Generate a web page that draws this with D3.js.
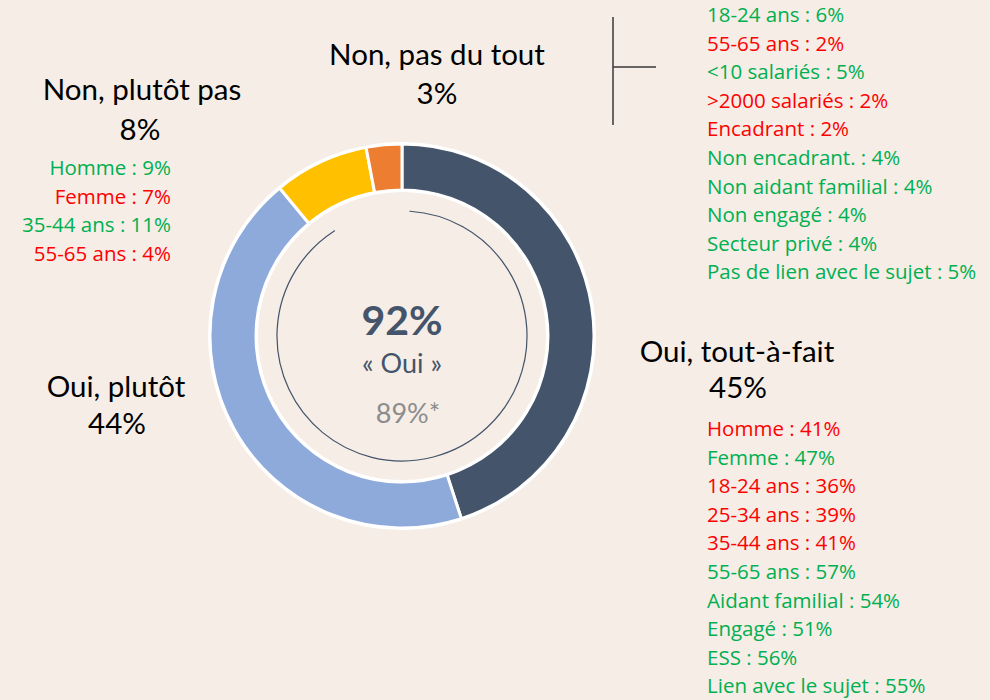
<!DOCTYPE html>
<html>
<head>
<meta charset="utf-8">
<script src="https://cdn.jsdelivr.net/npm/d3@7"></script>
<style>
  html, body { margin: 0; padding: 0; background: #f5ede6; }
  svg { display: block; font-family: Lato, "Open Sans", sans-serif; }
</style>
</head>
<body>
<svg id="donut" width="990" height="700"></svg>
<script>
// answer categories and shares (%)
const categories = ["Oui, tout-à-fait", "Oui, plutôt", "Non, plutôt pas", "Non, pas du tout"];
const values = [45, 44, 8, 3];
const ouiTotal = 92;
const ouiPrevious = "89%*";

// sub-group highlights: [label, value, "up"|"down"]
const toutAFaitGroups = [
  ["Homme", 41, "down"], ["Femme", 47, "up"], ["18-24 ans", 36, "down"],
  ["25-34 ans", 39, "down"], ["35-44 ans", 41, "down"], ["55-65 ans", 57, "up"],
  ["Aidant familial", 54, "up"], ["Engagé", 51, "up"], ["ESS", 56, "up"],
  ["Lien avec le sujet", 55, "up"]
];
const plutotPasGroups = [
  ["Homme", 9, "up"], ["Femme", 7, "down"], ["35-44 ans", 11, "up"], ["55-65 ans", 4, "down"]
];
const pasDuToutGroups = [
  ["18-24 ans", 6, "up"], ["55-65 ans", 2, "down"], ["<10 salariés", 5, "up"],
  [">2000 salariés", 2, "down"], ["Encadrant", 2, "down"], ["Non encadrant.", 4, "up"],
  ["Non aidant familial", 4, "up"], ["Non engagé", 4, "up"], ["Secteur privé", 4, "up"],
  ["Pas de lien avec le sujet", 5, "up"]
];

const svg = d3.select("#donut");
const cx = 402, cy = 336;
const rOuter = 192, rInner = 146;

const color = d3.scaleOrdinal()
  .domain(categories)
  .range(["#44546a", "#8eaadb", "#ffc000", "#ed7d31"]);
const trend = d3.scaleOrdinal().domain(["up", "down"]).range(["#00b050", "#ff0000"]);

const pie = d3.pie().sort(null).value(d => d.value);
const slices = pie(categories.map((c, i) => ({ name: c, value: values[i] })));
const arc = d3.arc().innerRadius(rInner).outerRadius(rOuter);

const g = svg.append("g").attr("transform", `translate(${cx},${cy})`);

g.selectAll("path.slice")
  .data(slices)
  .join("path")
  .attr("class", "slice")
  .attr("d", arc)
  .attr("fill", d => color(d.data.name))
  .attr("stroke", "#ffffff")
  .attr("stroke-width", 3);

// white ring edges
g.append("circle").attr("r", rOuter + 1).attr("fill", "none").attr("stroke", "#fff").attr("stroke-width", 2);
g.append("circle").attr("r", rInner - 1).attr("fill", "none").attr("stroke", "#fff").attr("stroke-width", 2);

// thin inner arc for the "Oui" total
const innerArc = d3.arc().innerRadius(125).outerRadius(125.01);
g.append("path")
  .attr("d", innerArc({ startAngle: 0.065, endAngle: 2 * Math.PI * ouiTotal / 100 - 0.07 }))
  .attr("fill", "none")
  .attr("stroke", "#44546a")
  .attr("stroke-width", 1.2);

// centre
g.append("text").attr("y", -1).attr("text-anchor", "middle")
  .style("font-size", "41px").style("font-weight", "bold").style("fill", "#44546a")
  .text(ouiTotal + "%");
g.append("text").attr("y", 37).attr("text-anchor", "middle")
  .style("font-size", "27px").style("fill", "#44546a")
  .text("« Oui »");
g.append("text").attr("x", 6).attr("y", 87).attr("text-anchor", "middle")
  .style("font-size", "27px").style("fill", "#8c8c8c")
  .text(ouiPrevious);

// category labels
const labelPos = [
  { x: 737, y: 362, px: 738, py: 398 },
  { x: 116, y: 397, px: 117, py: 434 },
  { x: 142, y: 100, px: 140, py: 140 },
  { x: 437, y: 65, px: 437, py: 104 }
];
categories.forEach((c, i) => {
  const p = labelPos[i];
  svg.append("text").attr("x", p.x).attr("y", p.y).attr("text-anchor", "middle")
    .style("font-size", "29.5px").style("fill", "#000").text(c);
  svg.append("text").attr("x", p.px).attr("y", p.py).attr("text-anchor", "middle")
    .style("font-size", "29.5px").style("fill", "#000").text(values[i] + "%");
});

function groupList(list, x, y0, anchor) {
  svg.append("g").selectAll("text")
    .data(list)
    .join("text")
    .attr("x", x)
    .attr("y", (d, i) => y0 + i * 28.6)
    .attr("text-anchor", anchor)
    .style("font-family", "'Open Sans', sans-serif")
    .style("font-size", "20.5px")
    .style("fill", d => trend(d[2]))
    .text(d => `${d[0]} : ${d[1]}%`);
}
groupList(toutAFaitGroups, 707, 436, "start");
groupList(plutotPasGroups, 171, 175, "end");
groupList(pasDuToutGroups, 707, 22, "start");

// bracket line next to top-right list
svg.append("path")
  .attr("d", "M613,17V125M613,67H656")
  .attr("fill", "none")
  .attr("stroke", "#3a3a3a")
  .attr("stroke-width", 1.5);
</script>
</body>
</html>
